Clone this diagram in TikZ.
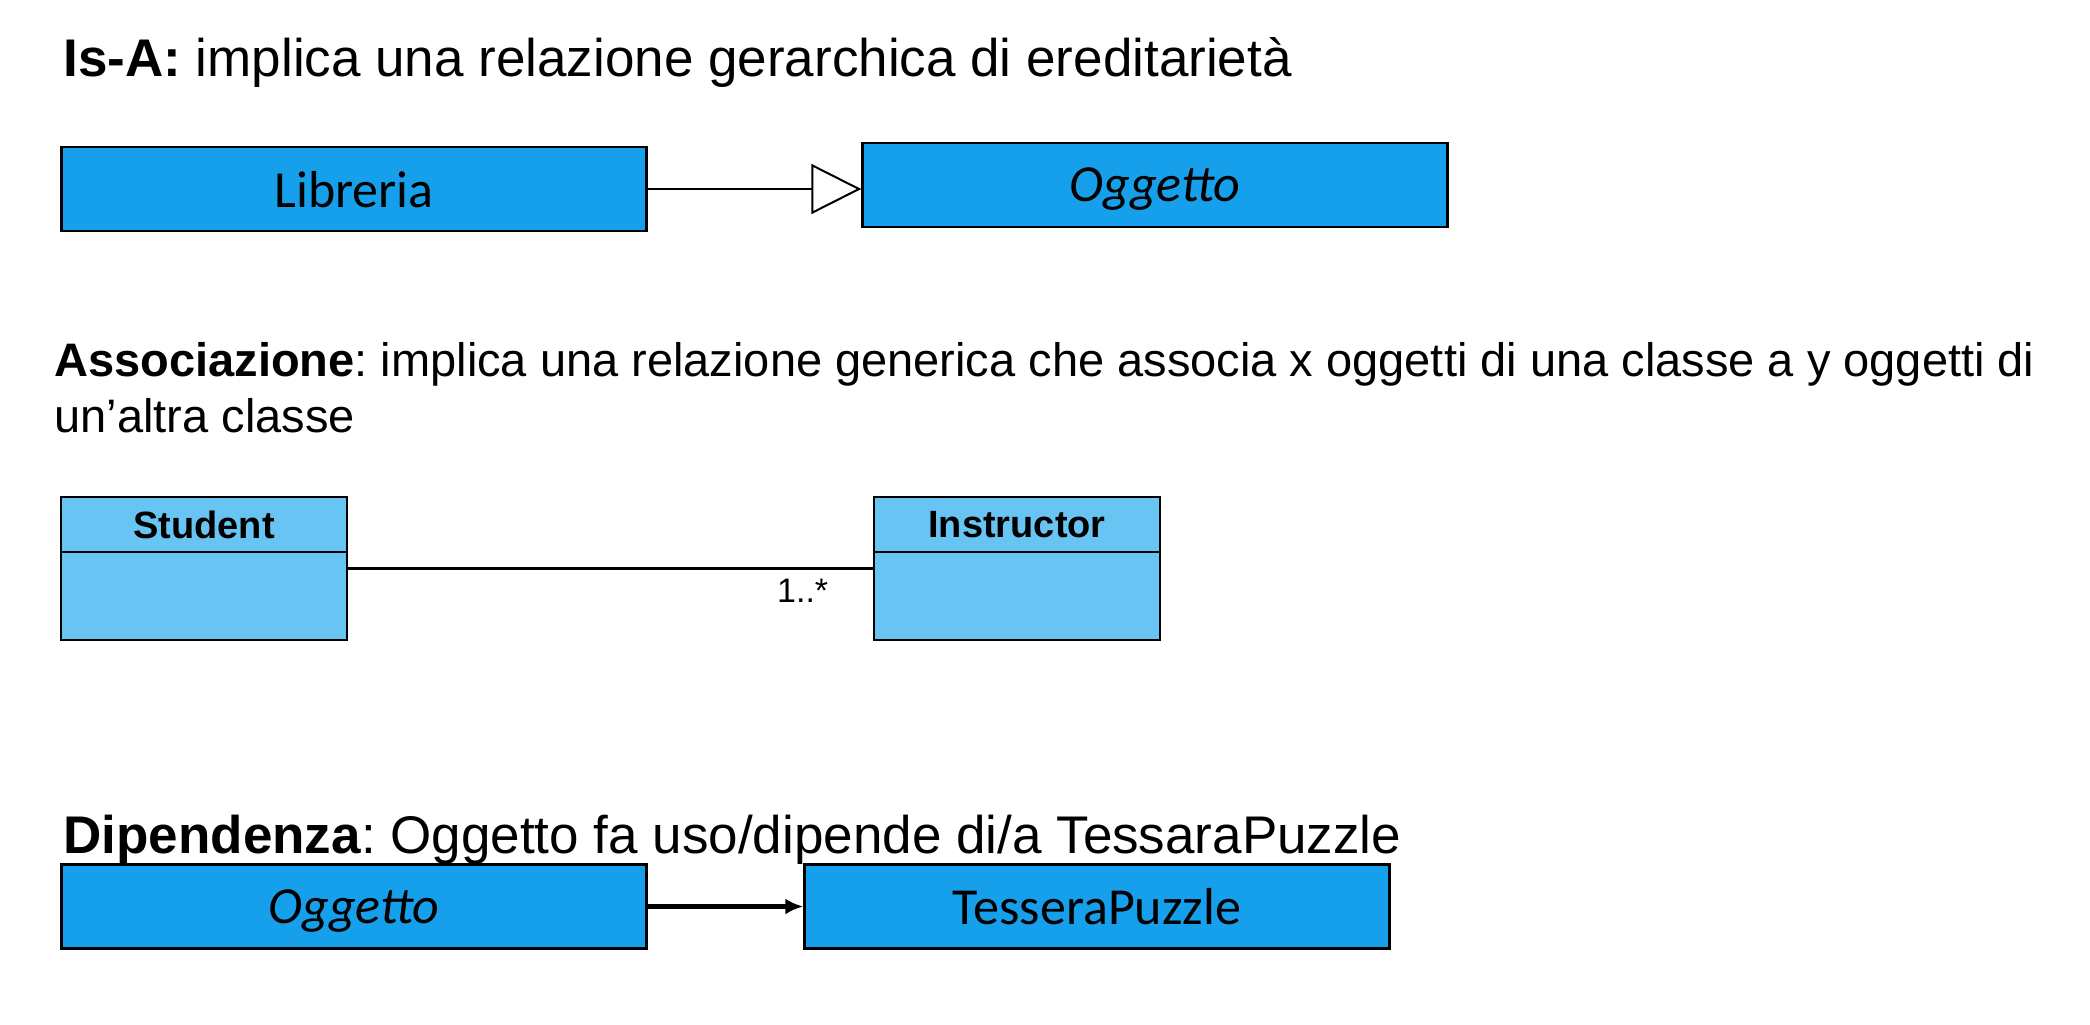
\documentclass[tikz,border=0pt]{standalone}
\usepackage{fontspec}
\setmainfont{Liberation Sans}
\newfontfamily\calfont{Carlito}
\usetikzlibrary{arrows.meta,positioning}
\frenchspacing

\definecolor{boxblue}{HTML}{169FEA}
\definecolor{classblue}{HTML}{68C4F2}

\tikzset{
  heading/.style={anchor=base west, inner sep=0pt, font=\fontsize{26.5pt}{32pt}\selectfont},
  subheading/.style={anchor=base west, inner sep=0pt, font=\fontsize{23.5pt}{28pt}\selectfont},
  objbox/.style={draw, line width=1.2pt, fill=boxblue, minimum width=292.5pt, minimum height=42pt,
    inner sep=0pt, text depth=0pt, font=\calfont\fontsize{26pt}{31pt}\selectfont},
  classbox/.style={draw, line width=1.4pt, fill=classblue, minimum width=143pt, minimum height=71.5pt, inner sep=0pt},
  classhead/.style={draw, line width=1.4pt, fill=classblue, minimum width=143pt, minimum height=27.5pt,
    inner sep=0pt, anchor=north, font=\bfseries\fontsize{19pt}{22pt}\selectfont},
  mult/.style={inner sep=0pt, font=\fontsize{17pt}{20pt}\selectfont},
}

\begin{document}
\begin{tikzpicture}[x=0.5pt,y=-0.5pt]
  \useasboundingbox (0,0) rectangle (2090,1024);

  %%%%% IS-A %%%%%
  \node[heading] (isa) at (63,76) {\textbf{Is-A:} implica una relazione gerarchica di ereditarietà};

  \node[objbox] (lib) at (354,189) {Libreria};
  \node[objbox] (oggtop) at (1155,185) {\textit{Oggetto}};
  \draw[line width=1pt, -{Triangle[open, length=25pt, width=25pt, fill=white]}] (lib.east) -- (lib.east -| oggtop.west);

  %%%%% ASSOCIAZIONE %%%%%
  \node[subheading] (assoc) at (54,376) {\textbf{Associazione}: implica una relazione generica che associa x oggetti di una classe a y oggetti di};
  \node[subheading] (assoctwo) at (54,432) {un’altra classe};

  \node[classbox] (stud) at (204,568.5) {};
  \node[classhead] (studhead) at (stud.north) {Student};
  \node[classbox] (inst) at (1017,568.5) {};
  \node[classhead] (insthead) at (inst.north) {Instructor};

  \draw[line width=1.5pt] (stud.east) -- (inst.west);
  \node[mult, anchor=north east, below left=5pt and 22pt of inst.west] (many) {1..*};

  %%%%% DIPENDENZA %%%%%
  \node[heading] (dip) at (63,853) {\textbf{Dipendenza}: Oggetto fa uso/dipende di/a TessaraPuzzle};

  \node[objbox] (oggbot) at (354,906.5) {\textit{Oggetto}};
  \node[objbox] (tess) at (1097,906.5) {TesseraPuzzle};
  \draw[line width=2.2pt, -{Latex[length=9pt, width=8pt]}] (oggbot.east) -- (tess.west);
\end{tikzpicture}
\end{document}
